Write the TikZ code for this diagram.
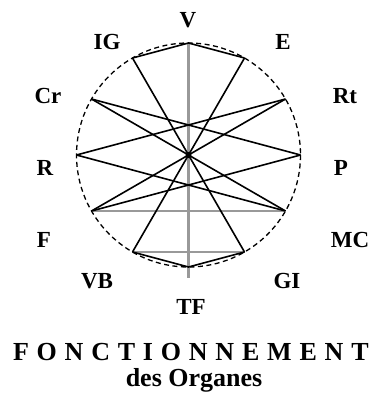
\documentclass[tikz,border=0pt]{standalone}
\usepackage{fontspec}
\setmainfont{Liberation Serif}
\newfontfamily\spacedserif[LetterSpace=30]{Liberation Serif}
\usetikzlibrary{calc}
\definecolor{axisgrey}{HTML}{999999}
\newcommand{\fL}{\fontsize{23}{27}\selectfont\bfseries}
\newcommand{\fT}{\fontsize{26}{30}\selectfont\bfseries}

\begin{document}
\begin{tikzpicture}[x=1pt,y=-1pt,
    txt/.style={inner sep=0pt,outer sep=0pt},
    lbl/.style={txt,font=\fL},
    chord/.style={draw=black,line width=1.6pt},
    axis/.style={draw=axisgrey,line width=2.4pt},
    rim/.style={draw=black,line width=1.3pt,dash pattern=on 5pt off 3.5pt}]
  \path[use as bounding box] (0,0) rectangle (372,410);
  \fill[white] (0,0) rectangle (372,410);

  % twelve points on the rim, V at the top, then clockwise
  \coordinate (O) at (188.5,155);
  \foreach \n/\a in {V/90,E/60,Rt/30,P/0,MC/-30,GI/-60,TF/-90,VB/-120,F/-150,R/180,Cr/150,IG/120}
    \coordinate (p\n) at ($(O)+(-\a:112)$);
  \coordinate (axisend) at ($(pTF)+(0,11)$);

  \draw[rim] (O) circle[radius=112];

  % grey axes
  \draw[axis] (pV) -- (axisend);
  \draw[axis] (pF) -- (pMC);
  \draw[axis] (pVB) -- (pGI);

  % chords at top and bottom
  \draw[chord] (pIG) -- (pV) -- (pE);
  \draw[chord] (pVB) -- (pTF) -- (pGI);
  % diameters through the centre
  \draw[chord] (pIG) -- (pGI);
  \draw[chord] (pE) -- (pVB);
  \draw[chord] (pCr) -- (pMC);
  \draw[chord] (pRt) -- (pF);
  % side chords crossing above and below the centre
  \draw[chord] (pCr) -- (pP);
  \draw[chord] (pRt) -- (pR);
  \draw[chord] (pF) -- (pP);
  \draw[chord] (pMC) -- (pR);
  \fill (O) circle[radius=3];

  % labels
  \node[lbl] (lV) at (188,20) {V};
  \node[lbl] (lIG) at (107,42) {IG};
  \node[lbl] (lE) at (283,42) {E};
  \node[lbl] (lCr) at (48,96) {Cr};
  \node[lbl] (lRt) at (345,96) {Rt};
  \node[lbl] (lR) at (45,168) {R};
  \node[lbl] (lP) at (341,168) {P};
  \node[lbl] (lF) at (44,240) {F};
  \node[lbl] (lMC) at (350,240) {MC};
  \node[lbl] (lVB) at (97,281) {VB};
  \node[lbl] (lGI) at (287,281) {GI};
  \node[lbl] (lTF) at (191,307) {TF};

  \node[txt,anchor=west,font={\spacedserif\fT}] (title) at (13,352) {FONCTIONNEMENT};
  \node[txt,font=\fT] (subtitle) at (194,380) {des Organes};
\end{tikzpicture}
\end{document}
